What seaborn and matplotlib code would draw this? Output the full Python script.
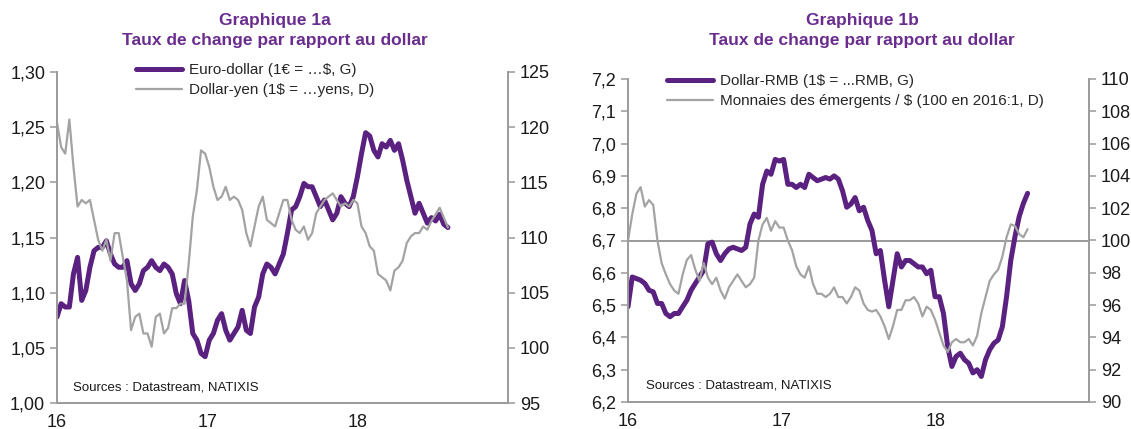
import numpy as np
import pandas as pd
import seaborn as sns
import matplotlib
matplotlib.use("Agg")
from matplotlib import pyplot as plt
import matplotlib.dates as mdates
from matplotlib.ticker import FuncFormatter, MultipleLocator

# readings every 10 days, Jan 2016 -> Aug 2018
dates = pd.date_range("2016-01-01", periods=96, freq="10D")

eur_usd = [1.078, 1.090, 1.087, 1.087, 1.117, 1.132, 1.093, 1.102, 1.123, 1.138,
           1.141, 1.141, 1.147, 1.135, 1.126, 1.123, 1.123, 1.129, 1.108, 1.102,
           1.108, 1.120, 1.123, 1.129, 1.123, 1.120, 1.126, 1.123, 1.117, 1.099,
           1.090, 1.111, 1.093, 1.063, 1.057,
           1.045, 1.042, 1.057, 1.063, 1.075,
           1.081, 1.066, 1.057, 1.063, 1.069, 1.084, 1.066, 1.063, 1.087, 1.096,
           1.117, 1.126, 1.123, 1.117, 1.126, 1.135, 1.154, 1.175, 1.178, 1.187,
           1.199, 1.196, 1.196, 1.187, 1.178, 1.184, 1.175, 1.166, 1.172,
           1.187, 1.181, 1.178, 1.187, 1.205, 1.226, 1.245, 1.242, 1.229, 1.223, 1.235,
           1.232, 1.238, 1.229, 1.235, 1.220, 1.202, 1.187, 1.172, 1.181, 1.172, 1.163,
           1.168, 1.165, 1.171, 1.162, 1.159]

usd_jpy = [120.4, 118.2, 117.6, 120.7, 116.4, 112.8, 113.4, 113.1, 113.4, 111.6,
           109.8, 108.8, 109.8, 107.9, 110.4, 110.4, 108.2, 106.1, 101.6, 102.8,
           103.1, 101.3, 101.3, 100.1, 102.8, 103.1, 101.3, 101.8, 103.6, 103.6,
           104.0, 104.0, 107.6, 111.9, 114.3,
           117.9, 117.6, 116.4, 114.6, 113.4,
           113.7, 114.6, 113.4, 113.7, 113.4, 112.5, 110.4, 109.2, 111.0, 112.8,
           113.7, 111.6, 111.3, 111.0, 112.2, 113.4, 113.4, 111.6, 110.7, 110.4,
           111.0, 109.8, 110.4, 112.2, 112.8, 113.4, 113.7, 114.0, 113.4,
           112.8, 113.1, 112.8, 113.4, 113.1, 111.0, 110.4, 109.2, 108.8, 106.7, 106.4,
           106.1, 105.2, 107.0, 107.3, 107.9, 109.5, 110.1, 110.4, 110.4, 111.0, 110.7,
           111.5, 112.1, 112.7, 111.8, 110.9]

usd_rmb = [6.495, 6.587, 6.582, 6.577, 6.567, 6.546, 6.541, 6.505, 6.505, 6.474,
           6.464, 6.474, 6.474, 6.495, 6.515, 6.546, 6.567, 6.587, 6.608, 6.690,
           6.695, 6.659, 6.638, 6.659, 6.674, 6.679, 6.674, 6.669, 6.679, 6.751,
           6.782, 6.772, 6.874, 6.915, 6.905, 6.951, 6.946,
           6.951, 6.874, 6.874, 6.864, 6.874, 6.864, 6.905, 6.895, 6.885, 6.890,
           6.895, 6.890, 6.900, 6.890, 6.854, 6.803, 6.813, 6.833, 6.792, 6.803,
           6.762, 6.731, 6.659, 6.669, 6.577, 6.495, 6.577, 6.659, 6.618, 6.638,
           6.638, 6.628, 6.618, 6.618, 6.597, 6.608, 6.526,
           6.526, 6.474, 6.372, 6.310, 6.341, 6.351, 6.331, 6.320, 6.290, 6.300,
           6.279, 6.331, 6.362, 6.382, 6.392, 6.433, 6.526, 6.638,
           6.712, 6.774, 6.815, 6.846]

em_fx = [100.0, 101.6, 102.9, 103.3, 102.1, 102.5, 102.2, 100.0, 98.6, 97.9,
         97.3, 96.9, 96.7, 97.9, 98.8, 99.1, 98.2, 97.5, 98.6, 97.7,
         97.3, 97.7, 96.9, 96.4, 97.1, 97.5, 97.9, 97.5, 97.1, 97.3,
         97.7, 100.0, 101.0, 101.4, 100.6, 101.2, 100.8,
         100.8, 100.0, 99.4, 98.4, 97.9, 97.7, 98.4, 97.3, 96.7, 96.7,
         96.5, 96.7, 97.1, 96.5, 96.5, 96.1, 96.5, 97.1, 96.9, 96.1,
         95.7, 95.6, 95.7, 95.3, 94.7, 93.9, 94.7, 95.7, 95.7, 96.3,
         96.3, 96.5, 96.1, 95.3, 95.9, 95.7, 95.1,
         94.3, 93.5, 93.1, 93.7, 93.9, 93.7, 93.7, 93.9, 93.5, 94.1,
         95.5, 96.5, 97.5, 97.9, 98.2, 99.0, 100.2, 101.0,
         100.9, 100.4, 100.2, 100.7]

PURPLE = "#5a2180"
TITLE_PURPLE = "#6a2d8f"
GREY = "#a3a3a3"
SPINE = "#9a9a9a"

sns.set_style("white")
plt.rcParams["font.family"] = ["Liberation Sans", "DejaVu Sans"]


def comma_fmt(dec):
    return FuncFormatter(lambda v, _: f"{v:.{dec}f}".replace(".", ","))


def style_axes(ax, ax2):
    for a in (ax, ax2):
        for side in ("left", "right", "bottom"):
            a.spines[side].set_color(SPINE)
            a.spines[side].set_linewidth(1.2)
        a.spines["top"].set_visible(False)
        a.tick_params(axis="both", which="both", direction="out", length=5,
                      width=1.1, color=SPINE, labelsize=13, labelcolor="#1a1a1a")
        a.set_xlabel("")
        a.set_ylabel("")
    ax.set_xlim(pd.Timestamp("2016-01-01"), pd.Timestamp("2019-01-01"))
    ax.xaxis.set_major_locator(mdates.YearLocator())
    ax.xaxis.set_major_formatter(FuncFormatter(
        lambda v, _: "" if mdates.num2date(v).year == 2019 else mdates.num2date(v).strftime("%y")))
    ax.tick_params(axis="x", pad=3)


def panel(fig, rect, left_vals, right_vals, left_lim, left_step, left_dec,
          right_lim, right_step, labels, legend_xy, title, title_x, src_xy, hline=None):
    ax = fig.add_axes(rect)
    ax2 = ax.twinx()
    sns.lineplot(x=dates, y=left_vals, ax=ax, color=PURPLE, linewidth=3.6,
                 label=labels[0], legend=False)
    sns.lineplot(x=dates, y=right_vals, ax=ax2, color=GREY, linewidth=1.6,
                 label=labels[1], legend=False)
    if hline is not None:
        ax.axhline(hline, color=SPINE, linewidth=1.4, zorder=0)
    ax.set_ylim(*left_lim)
    ax.yaxis.set_major_locator(MultipleLocator(left_step))
    ax.yaxis.set_major_formatter(comma_fmt(left_dec))
    ax2.set_ylim(*right_lim)
    ax2.yaxis.set_major_locator(MultipleLocator(right_step))
    ax2.yaxis.set_major_formatter(FuncFormatter(lambda v, _: f"{v:.0f}"))
    style_axes(ax, ax2)

    h1, l1 = ax.get_legend_handles_labels()
    h2, l2 = ax2.get_legend_handles_labels()
    fig.legend(h1 + h2, l1 + l2, loc="upper left", bbox_to_anchor=legend_xy,
               frameon=False, fontsize=11, handlelength=3.0, handletextpad=0.5,
               labelspacing=0.4, borderaxespad=0, borderpad=0)

    fig.text(title_x, 1 - 21 / 429, title[0], ha="center", va="center",
             color=TITLE_PURPLE, fontsize=12.5, fontweight="bold")
    fig.text(title_x, 1 - 41 / 429, title[1], ha="center", va="center",
             color=TITLE_PURPLE, fontsize=12.5, fontweight="bold")
    fig.text(src_xy[0], src_xy[1], "Sources : Datastream, NATIXIS",
             ha="left", va="center", fontsize=9.5, color="#1a1a1a")
    return ax, ax2


fig = plt.figure(figsize=(11.31, 4.29), dpi=100)

panel(fig, [57 / 1131, 26 / 429, 451 / 1131, 331 / 429],
      eur_usd, usd_jpy, (1.00, 1.30), 0.05, 2, (95, 125), 5,
      ["Euro-dollar (1€ = …$, G)", "Dollar-yen (1$ = …yens, D)"],
      (136 / 1131, 1 - 63 / 429),
      ["Graphique 1a", "Taux de change par rapport au dollar"], 275 / 1131,
      (73 / 1131, 1 - 387 / 429))

panel(fig, [628 / 1131, 27 / 429, 461 / 1131, 323 / 429],
      usd_rmb, em_fx, (6.2, 7.2), 0.1, 1, (90, 110), 2,
      ["Dollar-RMB (1$ = ...RMB, G)", "Monnaies des émergents / $ (100 en 2016:1, D)"],
      (667 / 1131, 1 - 74 / 429),
      ["Graphique 1b", "Taux de change par rapport au dollar"], 862 / 1131,
      (646 / 1131, 1 - 385 / 429), hline=6.7)

fig.savefig("out.png", dpi=100)
